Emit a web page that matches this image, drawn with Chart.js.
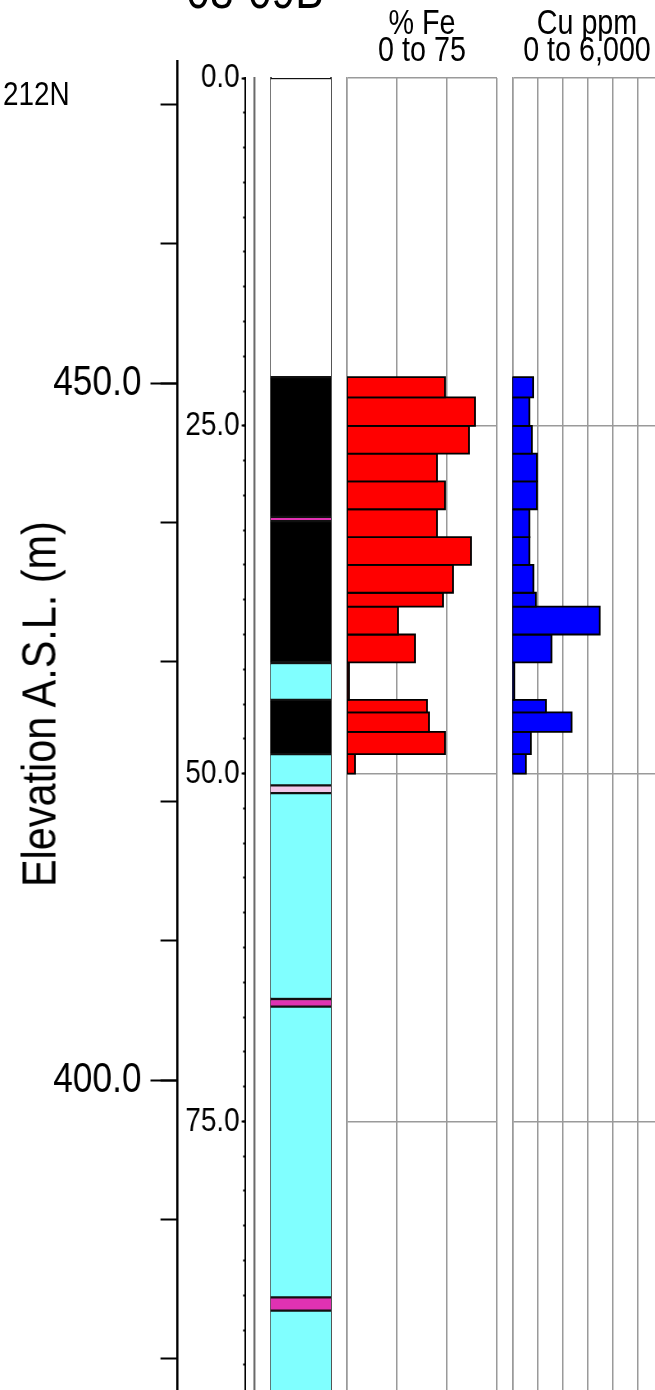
<!DOCTYPE html>
<html>
<head>
<meta charset="utf-8">
<script src="https://cdn.jsdelivr.net/npm/chart.js@4.4.1/dist/chart.umd.min.js"></script>
<style>
  html, body { margin: 0; padding: 0; background: #fff; width: 655px; height: 1390px; overflow: hidden; }
  #log { position: relative; width: 655px; height: 1390px; overflow: hidden; background: #fff; }
  #log canvas { position: absolute; top: 0; }
  .txt { position: absolute; line-height: 1; white-space: nowrap; color: #000;
         font-family: 'Liberation Sans', Arial, sans-serif; }
  .ctr { text-align: center; width: 240px; }
</style>
</head>
<body>
<div id="log"></div>
<script>
// ---- Hole 08-09B, section 212N ----
const holeName = '08-09B';
const sectionName = '212N';
const elevationTitle = 'Elevation A.S.L. (m)';
const feHeader = ['% Fe', '0 to 75'];
const cuHeader = ['Cu ppm', '0 to 6,000'];

// Assay intervals (metres down hole)
const sampleFrom = [21.5, 22.95, 25, 27, 29, 31, 33, 35, 37, 38, 40, 42, 44.7, 45.6, 47, 48.6];
const sampleTo   = [22.95, 25, 27, 29, 31, 33, 35, 37, 38, 40, 42, 44.7, 45.6, 47, 48.6, 50];
const feGrade    = [49, 64, 61, 45, 49, 45, 62, 53, 48, 25.5, 34, 1, 40, 41, 49, 4];
const cuGrade    = [830, 680, 780, 980, 980, 680, 680, 840, 940, 3480, 1560, 80, 1340, 2360, 740, 540];

// Logged lithology (metres down hole)
const lithFrom = [0, 21.5, 31.55, 31.85, 42.05, 44.7, 48.6, 50.85, 51.4, 66.2, 66.75, 87.65, 88.6];
const lithTo   = [21.5, 31.55, 31.85, 42.05, 44.7, 48.6, 50.85, 51.4, 66.2, 66.75, 87.65, 88.6, 100];
const lithUnit = ['OVB', 'BIF', 'VN', 'BIF', 'SCH', 'BIF', 'SCH', 'QTZ', 'SCH', 'VN', 'SCH', 'VN', 'SCH'];

// Axis ticks
const depthLabelTicks = [0, 25, 50, 75, 100];
const depthMinorStep = 2.5;
const elevLabelTicks = [400, 450];
const elevMinorStep = 10;
const feRange = [0, 75], feGridStep = 25;
const cuRange = [0, 6000], cuGridStep = 1000;

// ---- drawing setup ----
const FONT = "'Liberation Sans', Arial, sans-serif";
const NARROW = 0.82;            // horizontal squeeze of the lettering (narrow face)
const LITH_FILL = { OVB: '#ffffff', BIF: '#000000', VN: '#e032b2', SCH: '#80ffff', QTZ: '#f2c8ea' };
const CANVAS_H = 1530;
const DEPTH_TOP_PX = 78;        // depth 0
const DEPTH_BOTTOM_PX = 1469.2; // depth 100
const DEPTH_RANGE = [0, 100];
const ELEV_TOP_PX = 61;
const ELEV_RANGE = [372.08, 473.10];
const GRID = '#9a9a9a';

Chart.defaults.font.family = FONT;
Chart.defaults.color = '#000';

const root = document.getElementById('log');

// squeeze = 1 draws 1:1; squeeze < 1 renders wider and compresses the canvas horizontally
function makeCanvas(left, width, squeeze) {
  const k = squeeze || 1;
  const c = document.createElement('canvas');
  const w = Math.round(width / k);
  c.width = w; c.height = CANVAS_H;
  c.style.left = left + 'px';
  c.style.width = (w * k) + 'px';
  c.style.height = CANVAS_H + 'px';
  root.appendChild(c);
  return c;
}

function text(str, x, baseline, size, cls, squeeze) {
  const d = document.createElement('div');
  d.className = 'txt' + (cls ? ' ' + cls : '');
  d.textContent = str;
  d.style.fontSize = size + 'px';
  d.style.top = (baseline - 0.8465 * size) + 'px';
  d.style.left = (cls === 'ctr' ? x - 120 : x) + 'px';
  d.style.transformOrigin = cls === 'ctr' ? '50% 50%' : '0 50%';
  d.style.transform = 'scaleX(' + (squeeze || 1) + ')';
  root.appendChild(d);
  return d;
}

const base = {
  responsive: false,
  maintainAspectRatio: false,
  animation: false,
  devicePixelRatio: 1,
  events: [],
  plugins: { legend: { display: false }, tooltip: { enabled: false }, title: { display: false } }
};

const widthTo = w => s => { s.width = w; };
const heightTo = h => s => { s.height = h; };
const fixedTicks = arr => s => { s.ticks = arr.filter(v => v >= s.min && v <= s.max).map(v => ({ value: v })); };
const sx = v => v / NARROW;   // horizontal sizes inside squeezed canvases

// Elevation axis (major ticks with labels + minor ticks)
new Chart(makeCanvas(0, 200, NARROW), {
  type: 'line',
  data: { datasets: [] },
  options: Object.assign({}, base, {
    layout: { padding: { top: ELEV_TOP_PX, bottom: CANVAS_H - DEPTH_BOTTOM_PX, left: 0, right: sx(10) } },
    scales: {
      x: { type: 'linear', display: false, min: 0, max: 1 },
      elev: {
        axis: 'y', type: 'linear', position: 'left', weight: 2,
        min: ELEV_RANGE[0], max: ELEV_RANGE[1],
        afterFit: widthTo(sx(177.5)),
        afterBuildTicks: fixedTicks(elevLabelTicks),
        ticks: { autoSkip: false, padding: sx(9), color: '#000', font: { size: 43 }, callback: v => v.toFixed(1) },
        grid: { drawOnChartArea: false, drawTicks: true, tickLength: sx(27), tickWidth: 2, tickColor: '#000' },
        border: { display: true, color: '#000', width: sx(2) }
      },
      elevMinor: {
        axis: 'y', type: 'linear', position: 'left', weight: 1,
        min: ELEV_RANGE[0], max: ELEV_RANGE[1],
        afterFit: widthTo(0),
        ticks: { display: false, stepSize: elevMinorStep, includeBounds: false },
        grid: { drawOnChartArea: false, drawTicks: true, tickLength: sx(17), tickWidth: 2, tickColor: '#000' },
        border: { display: true, color: '#000', width: sx(2) }
      }
    }
  })
});

// Down-hole depth axis and hole trace
new Chart(makeCanvas(150, 110, NARROW), {
  type: 'line',
  data: { datasets: [] },
  options: Object.assign({}, base, {
    layout: { padding: { top: DEPTH_TOP_PX, bottom: CANVAS_H - DEPTH_BOTTOM_PX, left: 0, right: 0 } },
    scales: {
      x: { type: 'linear', display: false, min: 0, max: 1 },
      depth: {
        axis: 'y', type: 'linear', position: 'left', weight: 2, reverse: true,
        min: DEPTH_RANGE[0], max: DEPTH_RANGE[1],
        afterFit: widthTo(sx(95.5)),
        afterBuildTicks: fixedTicks(depthLabelTicks),
        ticks: { autoSkip: false, padding: sx(2), color: '#000', font: { size: 34 }, callback: v => v.toFixed(1) },
        grid: { drawOnChartArea: false, drawTicks: true, tickLength: sx(4), tickWidth: 2, tickColor: '#000' },
        border: { display: true, color: '#000', width: sx(1.6) }
      },
      depthMinor: {
        axis: 'y', type: 'linear', position: 'left', weight: 1, reverse: true,
        min: DEPTH_RANGE[0], max: DEPTH_RANGE[1],
        afterFit: widthTo(0),
        ticks: { display: false, stepSize: depthMinorStep, includeBounds: false },
        grid: { drawOnChartArea: false, drawTicks: true, tickLength: sx(2.5), tickWidth: 2, tickColor: '#000' },
        border: { display: true, color: '#000', width: sx(1.6) }
      },
      trace: {
        axis: 'y', type: 'linear', position: 'right', reverse: true,
        min: DEPTH_RANGE[0], max: DEPTH_RANGE[1],
        afterFit: s => { s.width = s.chart.width - sx(254 - 150); },
        ticks: { display: false },
        grid: { display: false, drawTicks: false },
        border: { display: true, color: '#6a6a6a', width: sx(2) }
      }
    }
  })
});

// Lithology column
new Chart(makeCanvas(262, 78), {
  type: 'bar',
  data: {
    labels: ['lith'],
    datasets: lithFrom.map((top, i) => ({
      data: [[top, lithTo[i]]],
      backgroundColor: LITH_FILL[lithUnit[i]],
      borderColor: '#111',
      borderWidth: { top: 1.5, bottom: 1.5, left: 0, right: 0 },
      borderSkipped: false,
      grouped: false,
      categoryPercentage: 1,
      barPercentage: 1
    }))
  },
  options: Object.assign({}, base, {
    layout: { padding: { top: DEPTH_TOP_PX, bottom: CANVAS_H - DEPTH_BOTTOM_PX, left: 8.5, right: 9 } },
    scales: {
      x: { display: false },
      y: {
        type: 'linear', position: 'left', reverse: true, z: 1,
        min: DEPTH_RANGE[0], max: DEPTH_RANGE[1],
        afterFit: widthTo(0),
        ticks: { display: false },
        grid: { display: false, drawTicks: false },
        border: { display: true, color: '#555', width: 2 }
      },
      yRight: {
        axis: 'y', type: 'linear', position: 'right', reverse: true, z: 1,
        min: DEPTH_RANGE[0], max: DEPTH_RANGE[1],
        afterFit: widthTo(0),
        ticks: { display: false },
        grid: { display: false, drawTicks: false },
        border: { display: true, color: '#555', width: 2 }
      }
    }
  })
});

// Assay track: one closed box per sample interval, from 0 out to the grade
function assayTrack(left, width, padL, padR, range, step, values, fillColour) {
  return new Chart(makeCanvas(left, width), {
    type: 'scatter',
    data: {
      datasets: sampleFrom.map((top, i) => {
        const bot = sampleTo[i], v = values[i];
        return {
          data: [{ x: range[0], y: top }, { x: v, y: top }, { x: v, y: bot }, { x: range[0], y: bot }, { x: range[0], y: top }],
          showLine: true,
          fill: 'shape',
          backgroundColor: fillColour,
          borderColor: '#000',
          borderWidth: 1.8,
          pointRadius: 0,
          tension: 0
        };
      })
    },
    options: Object.assign({}, base, {
      layout: { padding: { top: DEPTH_TOP_PX, bottom: CANVAS_H - DEPTH_BOTTOM_PX, left: padL, right: padR } },
      scales: {
        x: {
          type: 'linear', position: 'top', z: 1,
          min: range[0], max: range[1],
          afterFit: heightTo(0),
          ticks: { display: false, stepSize: step },
          grid: { color: GRID, lineWidth: 1.5, drawTicks: false },
          border: { display: false }
        },
        y: {
          type: 'linear', position: 'left', reverse: true, z: 1,
          min: DEPTH_RANGE[0], max: DEPTH_RANGE[1],
          afterFit: widthTo(0),
          afterBuildTicks: fixedTicks(depthLabelTicks),
          ticks: { display: false },
          grid: { color: GRID, lineWidth: 1.5, drawTicks: false },
          border: { display: true, color: GRID, width: 1.5 }
        }
      }
    })
  });
}

assayTrack(330, 180, 17, 13, feRange, feGridStep, feGrade, '#ff0000');
assayTrack(495, 200, 17.3, 32, cuRange, cuGridStep, cuGrade, '#0000ff');

// Titles and headers
text(holeName, 255, 8, 52, 'ctr', NARROW);
text(sectionName, 3, 105, 34, '', NARROW);
text(feHeader[0], 422, 34, 35, 'ctr', NARROW);
text(feHeader[1], 422, 61, 35, 'ctr', NARROW);
text(cuHeader[0], 587, 34, 35, 'ctr', NARROW);
text(cuHeader[1], 587, 61, 35, 'ctr', NARROW);

const et = document.createElement('div');
et.className = 'txt';
et.textContent = elevationTitle;
et.style.fontSize = '49px';
et.style.left = '39px';
et.style.top = '704px';
et.style.transform = 'translate(-50%, -50%) rotate(-90deg) scaleX(0.845)';
root.appendChild(et);
</script>
</body>
</html>
